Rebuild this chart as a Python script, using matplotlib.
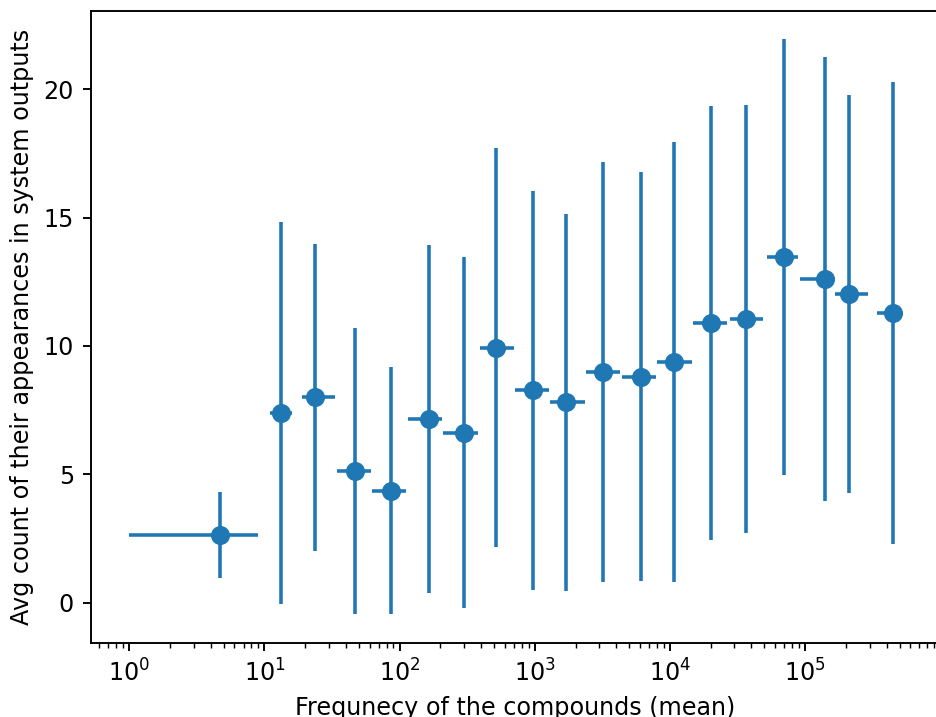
import matplotlib
matplotlib.use("Agg")
import matplotlib.pyplot as plt
import numpy as np

# Bin mean frequency and bin range (min / max) of compound frequencies
freq_mean = [4.67, 13.2, 23.8, 46.5, 85.6, 166, 300, 515, 973, 1708,
             3209, 6060, 10760, 20120, 36270, 70150, 141100, 212400, 447300]
freq_min = [1.0, 11.0, 19.0, 34.3, 62.6, 115, 211, 390, 716, 1294,
            2373, 4384, 8054, 14700, 27620, 51880, 91690, 165300, 340600]
freq_max = [9.01, 16.0, 33.1, 61.2, 111.7, 204, 379, 696, 1263, 2333,
            4286, 7918, 14550, 26420, 48800, 89080, 156300, 293700, 515200]

# Average count of appearances in system outputs and its standard deviation
avg_count = [2.64, 7.39, 8.00, 5.13, 4.36, 7.14, 6.62, 9.94, 8.27, 7.80,
             8.98, 8.80, 9.38, 10.89, 11.05, 13.46, 12.60, 12.02, 11.27]
std_count = [1.69, 7.44, 5.98, 5.57, 4.81, 6.78, 6.83, 7.77, 7.77, 7.33,
             8.17, 7.96, 8.58, 8.44, 8.35, 8.48, 8.65, 7.74, 9.00]

xm = np.array(freq_mean)
xerr = [xm - np.array(freq_min), np.array(freq_max) - xm]

DPI = 171.6
fig = plt.figure(figsize=(936 / DPI, 717 / DPI), dpi=DPI)
ax = fig.add_axes([0.0969, 0.1032, 0.9074, 0.8819])
ax.errorbar(freq_mean, avg_count, xerr=xerr, yerr=std_count, fmt='o',
            markersize=7, color='#1f77b4')
ax.set_xscale('log')
ax.set_xlabel('Frequnecy of the compounds (mean)')
ax.set_ylabel('Avg count of their appearances in system outputs')
fig.savefig('out.png', dpi=DPI)
